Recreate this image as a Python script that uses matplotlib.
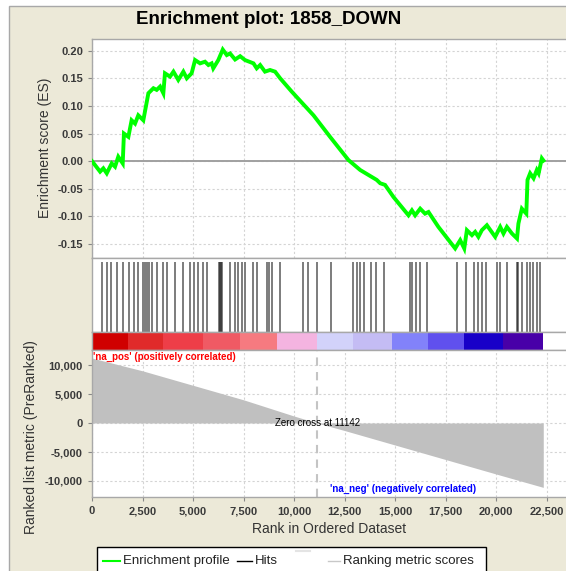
import numpy as np
import matplotlib.pyplot as plt
from matplotlib.patches import Rectangle
from matplotlib.lines import Line2D
from matplotlib.ticker import FuncFormatter

plt.rcParams['font.family'] = ['Liberation Sans', 'DejaVu Sans']
plt.rcParams['axes.unicode_minus'] = False

# running enrichment score
es_rank = [0, 400, 560, 730, 975, 1140, 1300, 1520, 1580, 1800, 1960, 2130, 2290, 2540,
           2790, 3040, 3200, 3370, 3530, 3610, 3860, 4030, 4270, 4520, 4690, 4930, 5100,
           5350, 5590, 5760, 5920, 6000, 6250, 6470, 6670, 6830, 7080, 7330, 7570, 7990,
           8150, 8320, 8560, 8810, 9060, 9310, 9880, 10130, 10960, 11780, 12690, 13270,
           14090, 14260, 14500, 14920, 15660, 15830, 15990, 16240, 16480, 16650, 17140,
           17970, 18220, 18420, 18550, 18800, 18960, 19120, 19290, 19540, 19950, 20200,
           20360, 20530, 20780, 21030, 21100, 21270, 21490, 21550, 21680, 21850, 22010,
           22100, 22260, 22340]
es_score = [0.000, -0.019, -0.013, -0.022, -0.004, -0.010, 0.008, -0.004, 0.050, 0.044,
            0.074, 0.068, 0.083, 0.074, 0.123, 0.132, 0.129, 0.135, 0.123, 0.159, 0.153,
            0.162, 0.147, 0.162, 0.150, 0.159, 0.183, 0.177, 0.180, 0.174, 0.177, 0.168,
            0.183, 0.202, 0.192, 0.195, 0.184, 0.190, 0.183, 0.177, 0.168, 0.174, 0.162,
            0.165, 0.162, 0.150, 0.126, 0.116, 0.083, 0.044, 0.002, -0.016, -0.034, -0.040,
            -0.043, -0.065, -0.098, -0.089, -0.098, -0.086, -0.095, -0.092, -0.119, -0.158,
            -0.143, -0.158, -0.125, -0.134, -0.128, -0.137, -0.125, -0.116, -0.137, -0.119,
            -0.131, -0.119, -0.131, -0.140, -0.113, -0.086, -0.095, -0.034, -0.022, -0.031,
            -0.016, -0.022, 0.005, 0.001]

# positions of gene set members in the ranked list
hits = [510, 728, 926, 1252, 1549, 1832, 2079, 2262, 2510, 2624, 2737, 2836, 2955, 3232,
        3500, 3727, 4109, 4520, 4851, 5049, 5262, 5509, 5678, 6287, 6336, 6386, 6435,
        6831, 7079, 7242, 7410, 7574, 7955, 8153, 8648, 8777, 8895, 9306, 10430, 10677,
        11123, 11816, 12934, 13103, 13266, 13464, 13796, 14058, 14454, 15741, 15840,
        16038, 16236, 16568, 18082, 18513, 18909, 19122, 19290, 19503, 20033, 20196,
        20528, 21023, 21102, 21270, 21518, 21681, 21845, 22013, 22176]

# ranked list metric
metric_rank = [0, 2500, 5000, 7500, 10000, 11142, 12500, 15000, 17500, 20000, 22330]
metric_value = [11200, 9000, 6500, 4000, 1200, 0, -1300, -3800, -6300, -8800, -11100]
zero_cross = 11142

# heat bar blocks under the hits
bar_edges = [0, 1782, 3515, 5495, 7326, 9158, 11138, 12920, 14851, 16632, 18414, 20345, 22330]
bar_colors = ['#D00000', '#E02A2A', '#EE3E48', '#F05A64', '#F67A80', '#F4B4E0',
              '#D2D2FA', '#C4BCF4', '#8282FA', '#6050EE', '#1800C8', '#4800A8']

legend_labels = ['Enrichment profile', 'Hits', 'Ranking metric scores']

W, H = 566, 571
fig = plt.figure(figsize=(W / 100, H / 100), dpi=100)
fig.patch.set_facecolor('white')
fig.add_artist(Rectangle((9 / W, -0.1), 1.2, 1.1 - 6 / H, transform=fig.transFigure,
                         facecolor='#ECE9D8', edgecolor='#A8A8A8', lw=1, zorder=-10))


def box(top, bottom):
    return [92 / W, 1 - bottom / H, (575 - 92) / W, (bottom - top) / H]


xmax = 23900
grid_kw = dict(color='#D4D4D4', linestyle=(0, (2, 2)), linewidth=0.8)
spine_c = '#A8A8A8'

ax1 = fig.add_axes(box(39, 258))
ax2 = fig.add_axes(box(258, 332))
ax_bar = fig.add_axes(box(332, 350))
ax3 = fig.add_axes(box(350, 497))

for ax in (ax1, ax2, ax_bar, ax3):
    ax.set_xlim(0, xmax)
    ax.set_facecolor('white')
    for s in ax.spines.values():
        s.set_color(spine_c)
        s.set_linewidth(1)
    ax.set_xticks(np.arange(0, 22501, 2500))
    ax.tick_params(colors='#888888', length=3, labelcolor='#3a3a3a', labelsize=8)

# enrichment profile
ax1.plot(es_rank, es_score, color='#00FF00', lw=2.8, solid_joinstyle='miter', zorder=3)
ax1.axhline(0, color='#A0A0A0', lw=1.4, zorder=2)
ax1.set_ylim(-0.1753, 0.2211)
ax1.set_yticks(np.arange(-0.15, 0.201, 0.05))
ax1.yaxis.set_major_formatter(FuncFormatter(lambda v, p: '%.2f' % v))
ax1.grid(True, **grid_kw)
ax1.tick_params(axis='x', labelbottom=False, length=0)

# hits
ax2.vlines(hits, 0, 0.95, color='black', alpha=0.6, lw=1.2)
ax2.set_ylim(0, 1)
ax2.set_yticks([])
ax2.tick_params(axis='x', labelbottom=False, length=0)

for i, c in enumerate(bar_colors):
    ax_bar.axvspan(bar_edges[i], bar_edges[i + 1], color=c, lw=0)
ax_bar.set_ylim(0, 1)
ax_bar.set_yticks([])
ax_bar.tick_params(axis='x', labelbottom=False, length=0)

# ranked list metric
ax3.fill_between(metric_rank, metric_value, 0, color='#C0C0C0', lw=0)
ax3.axvline(zero_cross, color='#C4C4C4', lw=1.5, linestyle=(0, (4, 3)))
ax3.set_ylim(-12760, 12590)
ax3.set_yticks([-10000, -5000, 0, 5000, 10000])
ax3.yaxis.set_major_formatter(FuncFormatter(lambda v, p: '{:,}'.format(int(v))))
ax3.xaxis.set_major_formatter(FuncFormatter(lambda v, p: '{:,}'.format(int(v))))
ax3.grid(True, **grid_kw)
ax3.set_axisbelow(True)
for lab in ax3.get_xticklabels() + ax3.get_yticklabels() + ax1.get_yticklabels():
    lab.set_fontweight('bold')
ax3.text(0.003, 0.952, "'na_pos' (positively correlated)", transform=ax3.transAxes,
         color='#FF0000', fontsize=7, fontweight='bold', va='center')
ax3.text(0.493, 0.054, "'na_neg' (negatively correlated)", transform=ax3.transAxes,
         color='#0000FF', fontsize=7, fontweight='bold', va='center')
ax3.text(zero_cross, 0, 'Zero cross at %d' % zero_cross, fontsize=7, ha='center',
         va='center', color='black')

fig.text(269 / W, 1 - 20 / H, 'Enrichment plot: 1858_DOWN', ha='center', va='center',
         fontsize=13.5, fontweight='bold')
fig.text(45 / W, 1 - 148 / H, 'Enrichment score (ES)', rotation=90, ha='center',
         va='center', fontsize=10, color='#333333')
fig.text(31 / W, 1 - 437 / H, 'Ranked list metric (PreRanked)', rotation=90, ha='center',
         va='center', fontsize=10, color='#333333')
fig.text(329 / W, 1 - 529 / H, 'Rank in Ordered Dataset', ha='center', va='center',
         fontsize=10, color='#333333')

# legend drawn by hand, it is cut off at the bottom edge
fig.add_artist(Rectangle((97 / W, -0.05), 389 / W, 0.05 + 1 - 547 / H,
                         transform=fig.transFigure, facecolor='white', edgecolor='black', lw=1))
ly = 1 - 561 / H
fig.add_artist(Line2D([103 / W, 120 / W], [ly, ly], color='#00FF00', lw=1.5))
fig.text(123 / W, ly, legend_labels[0], va='center', fontsize=9.5, color='#222222')
fig.add_artist(Line2D([237 / W, 252 / W], [ly, ly], color='black', lw=1))
fig.text(255 / W, ly, legend_labels[1], va='center', fontsize=9.5, color='#222222')
fig.add_artist(Line2D([296 / W, 310 / W], [1 - 551 / H, 1 - 551 / H], color='#E4E4E4', lw=1.5))
fig.add_artist(Line2D([328 / W, 340 / W], [ly, ly], color='#C8C8C8', lw=1))
fig.text(343 / W, ly, legend_labels[2], va='center', fontsize=9.5, color='#222222')

fig.savefig('out.png', dpi=100)
